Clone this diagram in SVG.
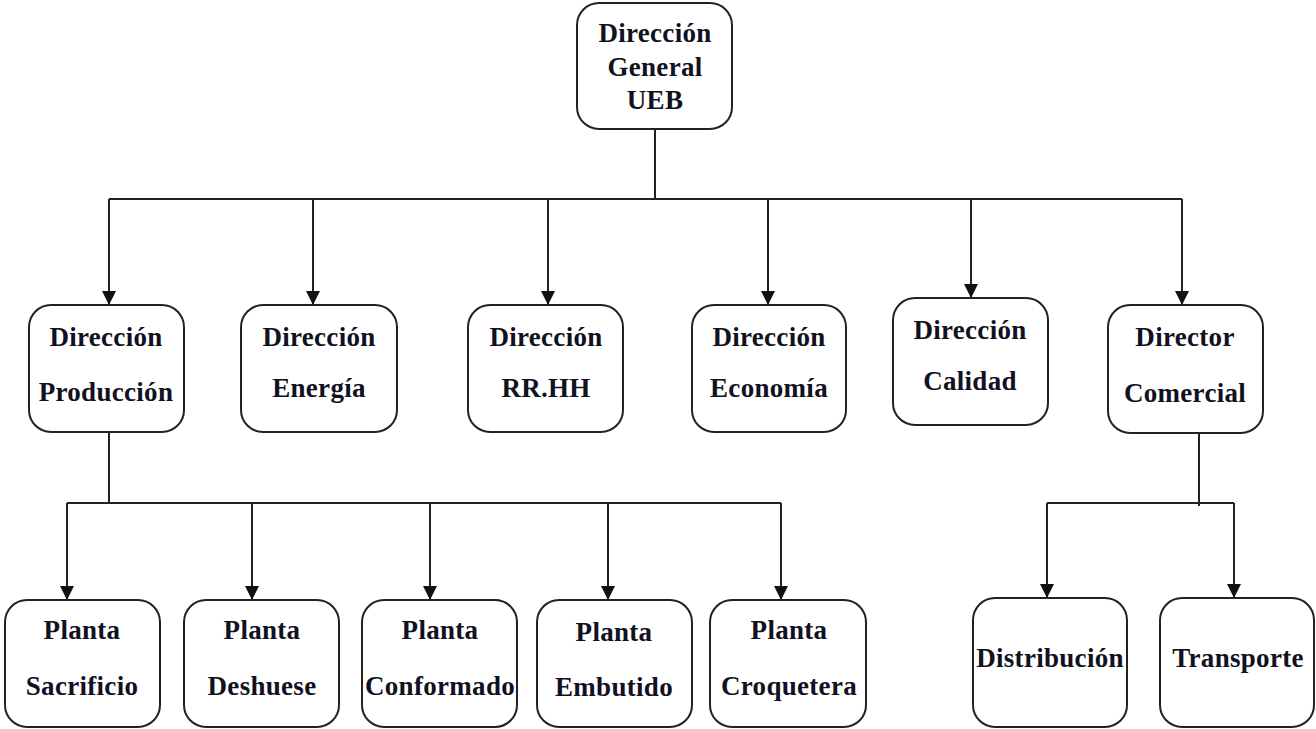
<svg xmlns="http://www.w3.org/2000/svg" width="1316" height="729" viewBox="0 0 1316 729">
  <style>
    .box { fill: #ffffff; stroke: #222222; stroke-width: 2; }
    .lbl { font-family: "Liberation Serif", "Times New Roman", serif; font-weight: bold; font-size: 27px; letter-spacing: 0.3px; fill: #111122; text-anchor: middle; }
    .wire { fill: none; stroke: #222222; stroke-width: 2; }
  </style>
  <defs>
    <marker id="arrow" markerUnits="userSpaceOnUse" markerWidth="14" markerHeight="16" refX="14" refY="7" orient="auto">
      <path d="M0,0 L14,7 L0,14 Z" fill="#111111"/>
    </marker>
  </defs>
  <rect width="1316" height="729" fill="#ffffff"/>

  <!-- connectors -->
  <g id="connectors">
    <path class="wire" d="M655,129 V199 M109,199 H1182"/>
    <path class="wire" d="M109,199 V305" marker-end="url(#arrow)"/>
    <path class="wire" d="M313,199 V305" marker-end="url(#arrow)"/>
    <path class="wire" d="M548,199 V305" marker-end="url(#arrow)"/>
    <path class="wire" d="M768,199 V305" marker-end="url(#arrow)"/>
    <path class="wire" d="M971,199 V298" marker-end="url(#arrow)"/>
    <path class="wire" d="M1182,199 V305" marker-end="url(#arrow)"/>

    <path class="wire" d="M109,432 V503 M67,503 H781"/>
    <path class="wire" d="M67,503 V600" marker-end="url(#arrow)"/>
    <path class="wire" d="M252,503 V600" marker-end="url(#arrow)"/>
    <path class="wire" d="M430,503 V600" marker-end="url(#arrow)"/>
    <path class="wire" d="M608,503 V600" marker-end="url(#arrow)"/>
    <path class="wire" d="M781,503 V600" marker-end="url(#arrow)"/>

    <path class="wire" d="M1199,433 V506 M1047,503 H1234"/>
    <path class="wire" d="M1047,503 V598" marker-end="url(#arrow)"/>
    <path class="wire" d="M1234,503 V598" marker-end="url(#arrow)"/>
  </g>

  <!-- top level -->
  <g id="direccion-general">
    <rect class="box" x="577" y="3" width="155" height="126" rx="22"/>
    <text class="lbl" x="655" y="42">Dirección</text>
    <text class="lbl" x="655" y="76">General</text>
    <text class="lbl" x="655" y="109">UEB</text>
  </g>

  <!-- second level -->
  <g id="direccion-produccion">
    <rect class="box" x="29" y="305" width="155" height="127" rx="22"/>
    <text class="lbl" x="106" y="346">Dirección</text>
    <text class="lbl" x="106" y="401">Producción</text>
  </g>
  <g id="direccion-energia">
    <rect class="box" x="241" y="305" width="156" height="127" rx="22"/>
    <text class="lbl" x="319" y="346">Dirección</text>
    <text class="lbl" x="319" y="397">Energía</text>
  </g>
  <g id="direccion-rrhh">
    <rect class="box" x="468" y="305" width="155" height="127" rx="22"/>
    <text class="lbl" x="546" y="346">Dirección</text>
    <text class="lbl" x="546" y="397">RR.HH</text>
  </g>
  <g id="direccion-economia">
    <rect class="box" x="692" y="305" width="154" height="127" rx="22"/>
    <text class="lbl" x="769" y="346">Dirección</text>
    <text class="lbl" x="769" y="397">Economía</text>
  </g>
  <g id="direccion-calidad">
    <rect class="box" x="893" y="298" width="155" height="127" rx="22"/>
    <text class="lbl" x="970" y="339">Dirección</text>
    <text class="lbl" x="970" y="390">Calidad</text>
  </g>
  <g id="director-comercial">
    <rect class="box" x="1108" y="305" width="155" height="128" rx="22"/>
    <text class="lbl" x="1185" y="346">Director</text>
    <text class="lbl" x="1185" y="402">Comercial</text>
  </g>

  <!-- plants -->
  <g id="planta-sacrificio">
    <rect class="box" x="5" y="600" width="155" height="127" rx="22"/>
    <text class="lbl" x="82" y="639">Planta</text>
    <text class="lbl" x="82" y="695">Sacrificio</text>
  </g>
  <g id="planta-deshuese">
    <rect class="box" x="184" y="600" width="155" height="127" rx="22"/>
    <text class="lbl" x="262" y="639">Planta</text>
    <text class="lbl" x="262" y="695">Deshuese</text>
  </g>
  <g id="planta-conformado">
    <rect class="box" x="362" y="600" width="155" height="127" rx="22"/>
    <text class="lbl" x="440" y="639">Planta</text>
    <text class="lbl" x="440" y="695">Conformado</text>
  </g>
  <g id="planta-embutido">
    <rect class="box" x="537" y="600" width="155" height="127" rx="22"/>
    <text class="lbl" x="614" y="641">Planta</text>
    <text class="lbl" x="614" y="696">Embutido</text>
  </g>
  <g id="planta-croquetera">
    <rect class="box" x="710" y="600" width="156" height="127" rx="22"/>
    <text class="lbl" x="789" y="639">Planta</text>
    <text class="lbl" x="789" y="695">Croquetera</text>
  </g>

  <!-- commercial units -->
  <g id="distribucion">
    <rect class="box" x="973" y="598" width="154" height="129" rx="22"/>
    <text class="lbl" x="1050" y="667">Distribución</text>
  </g>
  <g id="transporte">
    <rect class="box" x="1160" y="598" width="154" height="129" rx="22"/>
    <text class="lbl" x="1238" y="667">Transporte</text>
  </g>
</svg>
